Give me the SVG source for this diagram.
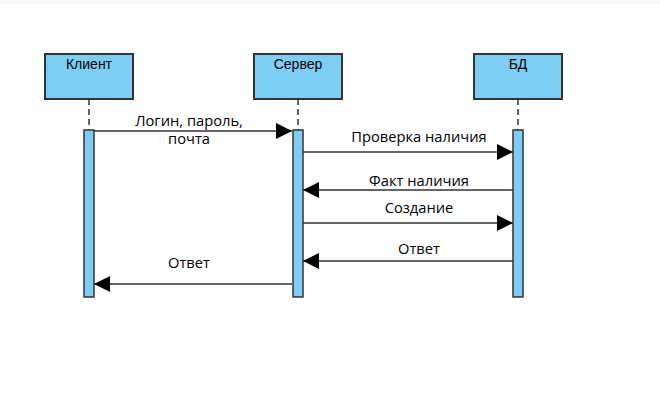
<svg xmlns="http://www.w3.org/2000/svg" width="660" height="400" viewBox="0 0 660 400">
<defs>
<marker id="ah" markerWidth="16" markerHeight="16" refX="16" refY="8" orient="auto" markerUnits="userSpaceOnUse">
<path d="M0,0 L16,8 L0,16 Z" fill="#000"/>
</marker>
<style>
.box{fill:#7ecef4;stroke:#333;stroke-width:2}
.act{fill:#7ecef4;stroke:#333;stroke-width:1.5}
.life{stroke:#333;stroke-width:1.5;stroke-dasharray:6,4;fill:none}
.msg{stroke:#333;stroke-width:1.3;fill:none;marker-end:url(#ah)}
.nl{font-family:"Liberation Sans",Arial,sans-serif;font-size:14px;fill:#000;text-anchor:middle}
.ml{font-family:"Open Sans","Noto Sans",sans-serif;font-size:14.7px;fill:#000;text-anchor:middle}
</style>
</defs>
<rect x="0" y="0" width="660" height="4" fill="#f8f9fa"/>
<g id="client">
<rect class="box" x="45" y="54" width="88" height="45"/>
<text class="nl" x="89" y="69">Клиент</text>
<line class="life" x1="89" y1="99" x2="89" y2="130"/>
<rect class="act" x="84" y="130" width="10" height="167"/>
</g>
<g id="server">
<rect class="box" x="254" y="54" width="88" height="45"/>
<text class="nl" x="298" y="69">Сервер</text>
<line class="life" x1="298" y1="99" x2="298" y2="130"/>
<rect class="act" x="293" y="130" width="10" height="167"/>
</g>
<g id="db">
<rect class="box" x="474" y="54" width="88" height="45"/>
<text class="nl" x="518" y="69">БД</text>
<line class="life" x1="518" y1="99" x2="518" y2="130"/>
<rect class="act" x="513" y="130" width="10" height="167"/>
</g>
<g id="connectors">
<line class="msg" x1="94" y1="131" x2="292" y2="131"/>
<text class="ml" x="189" y="126">Логин, пароль,</text>
<text class="ml" x="189" y="144">почта</text>
<line class="msg" x1="303" y1="152" x2="513" y2="152"/>
<text class="ml" x="419" y="142">Проверка наличия</text>
<line class="msg" x1="513" y1="190" x2="303" y2="190"/>
<text class="ml" x="419" y="186">Факт наличия</text>
<line class="msg" x1="303" y1="223" x2="513" y2="223"/>
<text class="ml" x="419" y="213">Создание</text>
<line class="msg" x1="513" y1="261" x2="303" y2="261"/>
<text class="ml" x="419" y="254">Ответ</text>
<line class="msg" x1="292" y1="284" x2="94" y2="284"/>
<text class="ml" x="189" y="268">Ответ</text>
</g>
</svg>
